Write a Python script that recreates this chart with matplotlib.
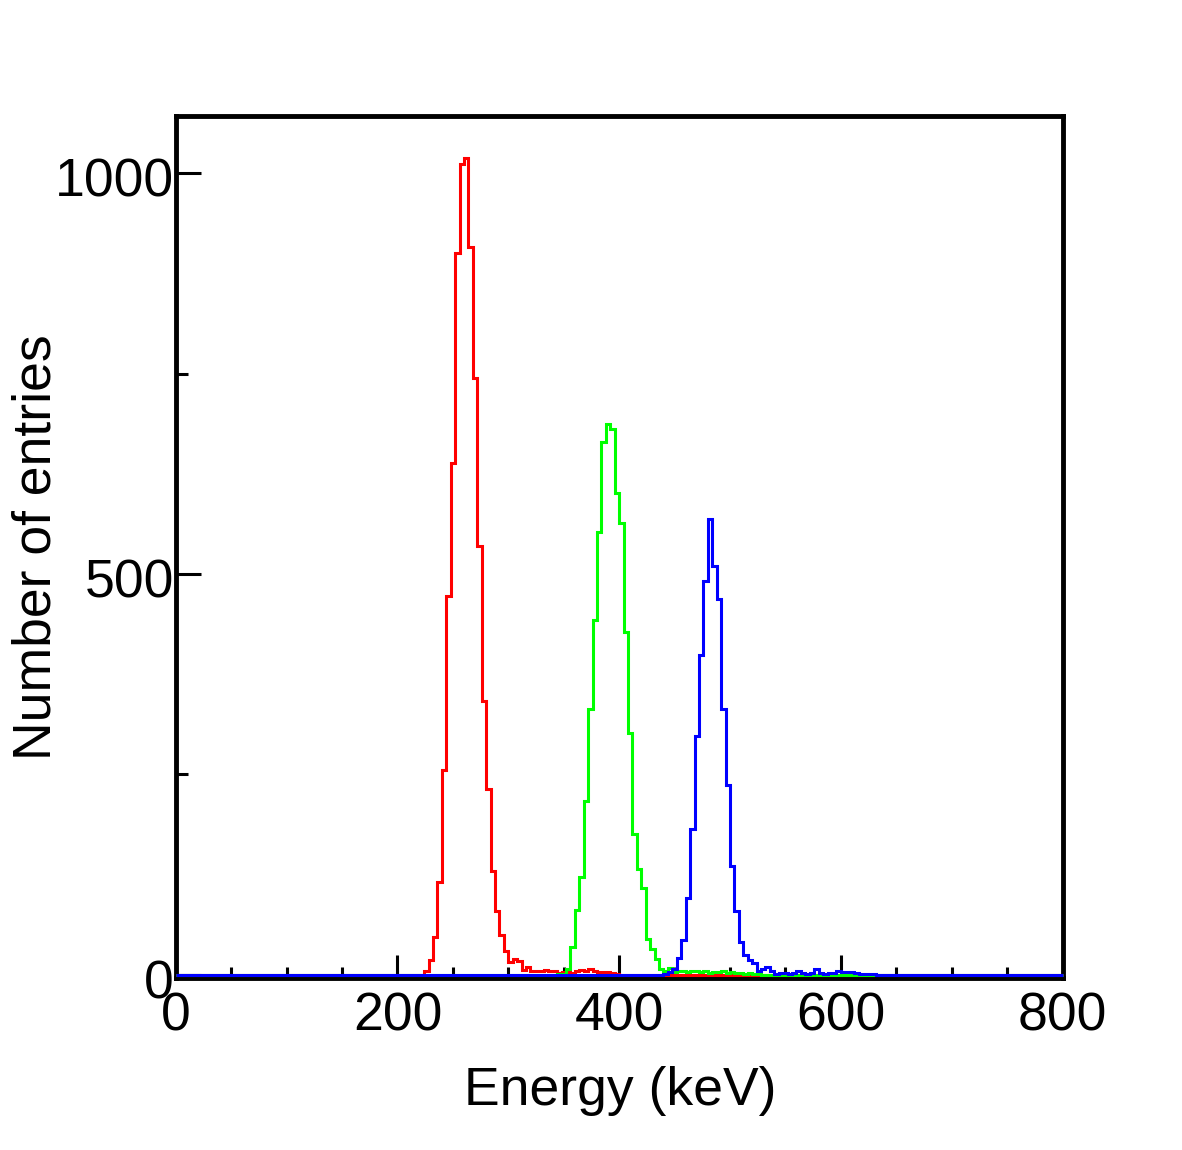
import numpy as np
import matplotlib
matplotlib.use("Agg")
import matplotlib.pyplot as plt
import matplotlib.transforms as mtransforms
from matplotlib.ticker import MultipleLocator

plt.rcParams['font.family'] = ['Liberation Sans', 'DejaVu Sans']

# histograms: 200 bins of 4 keV between 0 and 800 keV
bin_width = 4
bin_edges = np.arange(0, 800 + bin_width, bin_width)

# counts per bin, starting at the given bin low edge (keV)
red_start = 224
red_counts = [4, 18, 47, 116, 255, 473, 639, 901, 1011, 1019, 908, 744, 535, 342,
              232, 130, 80, 50, 29, 16, 19, 17, 6, 10, 5, 5, 4, 6, 5, 4, 2, 3,
              3, 2, 4, 6, 4, 7, 5, 3, 3, 3, 2, 1]

green_start = 344
green_counts = [1, 1, 7, 35, 81, 122, 217, 332, 442, 553, 665, 687, 681, 601, 564,
                427, 301, 176, 132, 108, 44, 32, 20, 7, 5, 8, 3, 4, 5, 3, 4, 5,
                3, 4, 2, 3, 3, 4, 2, 3, 2, 2, 1, 2, 1, 1]

blue_start = 440
blue_counts = [1, 3, 7, 21, 43, 96, 182, 298, 399, 491, 569, 510, 469, 332, 237,
               136, 80, 41, 25, 18, 15, 4, 7, 9, 4, 1, 2, 2, 1, 2, 5, 2, 1, 2,
               7, 2, 1, 2, 2, 5, 3, 3, 3, 2, 1, 1, 1, 1]


def fill_hist(start, counts):
    h = np.zeros(len(bin_edges) - 1)
    i = start // bin_width
    h[i:i + len(counts)] = counts
    return h


fig = plt.figure(figsize=(11.82, 11.5), dpi=100)
ax = fig.add_axes([175.8 / 1182, 1 - 977.5 / 1150, 886.7 / 1182, 861.7 / 1150])

for start, counts, col in [(red_start, red_counts, '#ff0000'),
                           (green_start, green_counts, '#00ff00'),
                           (blue_start, blue_counts, '#0000ff')]:
    ax.stairs(fill_hist(start, counts), bin_edges, color=col, lw=2.2,
              baseline=None, zorder=3, clip_on=False)

ax.set_xlim(0, 800)
ax.set_ylim(-3.5, 1071.7)

ax.xaxis.set_major_locator(MultipleLocator(200))
ax.xaxis.set_minor_locator(MultipleLocator(50))
ax.yaxis.set_major_locator(MultipleLocator(500))
ax.yaxis.set_minor_locator(MultipleLocator(250))

ax.tick_params(axis='x', which='major', direction='in', length=16.5, width=2.2,
               labelsize=38.5, pad=10)
ax.tick_params(axis='x', which='minor', direction='in', length=8, width=2.2)
ax.tick_params(axis='y', which='major', direction='in', length=18, width=2.2,
               labelsize=38.5, pad=1.5)
ax.tick_params(axis='y', which='minor', direction='in', length=8.6, width=2.2)

# ROOT puts the y labels a bit below the tick
shift = mtransforms.ScaledTranslation(0, -4 / 100, fig.dpi_scale_trans)
for lab in ax.get_yticklabels():
    lab.set_transform(lab.get_transform() + shift)

for sp in ax.spines.values():
    sp.set_linewidth(3.5)

fig.text(620 / 1182, 1 - 1105 / 1150, "Energy (keV)", fontsize=38.5,
         ha='center', va='baseline')
fig.text(51 / 1182, 1 - 547 / 1150, "Number of entries", fontsize=38.5,
         ha='center', va='baseline', rotation=90, rotation_mode='anchor')

fig.savefig("out.png", dpi=100)
